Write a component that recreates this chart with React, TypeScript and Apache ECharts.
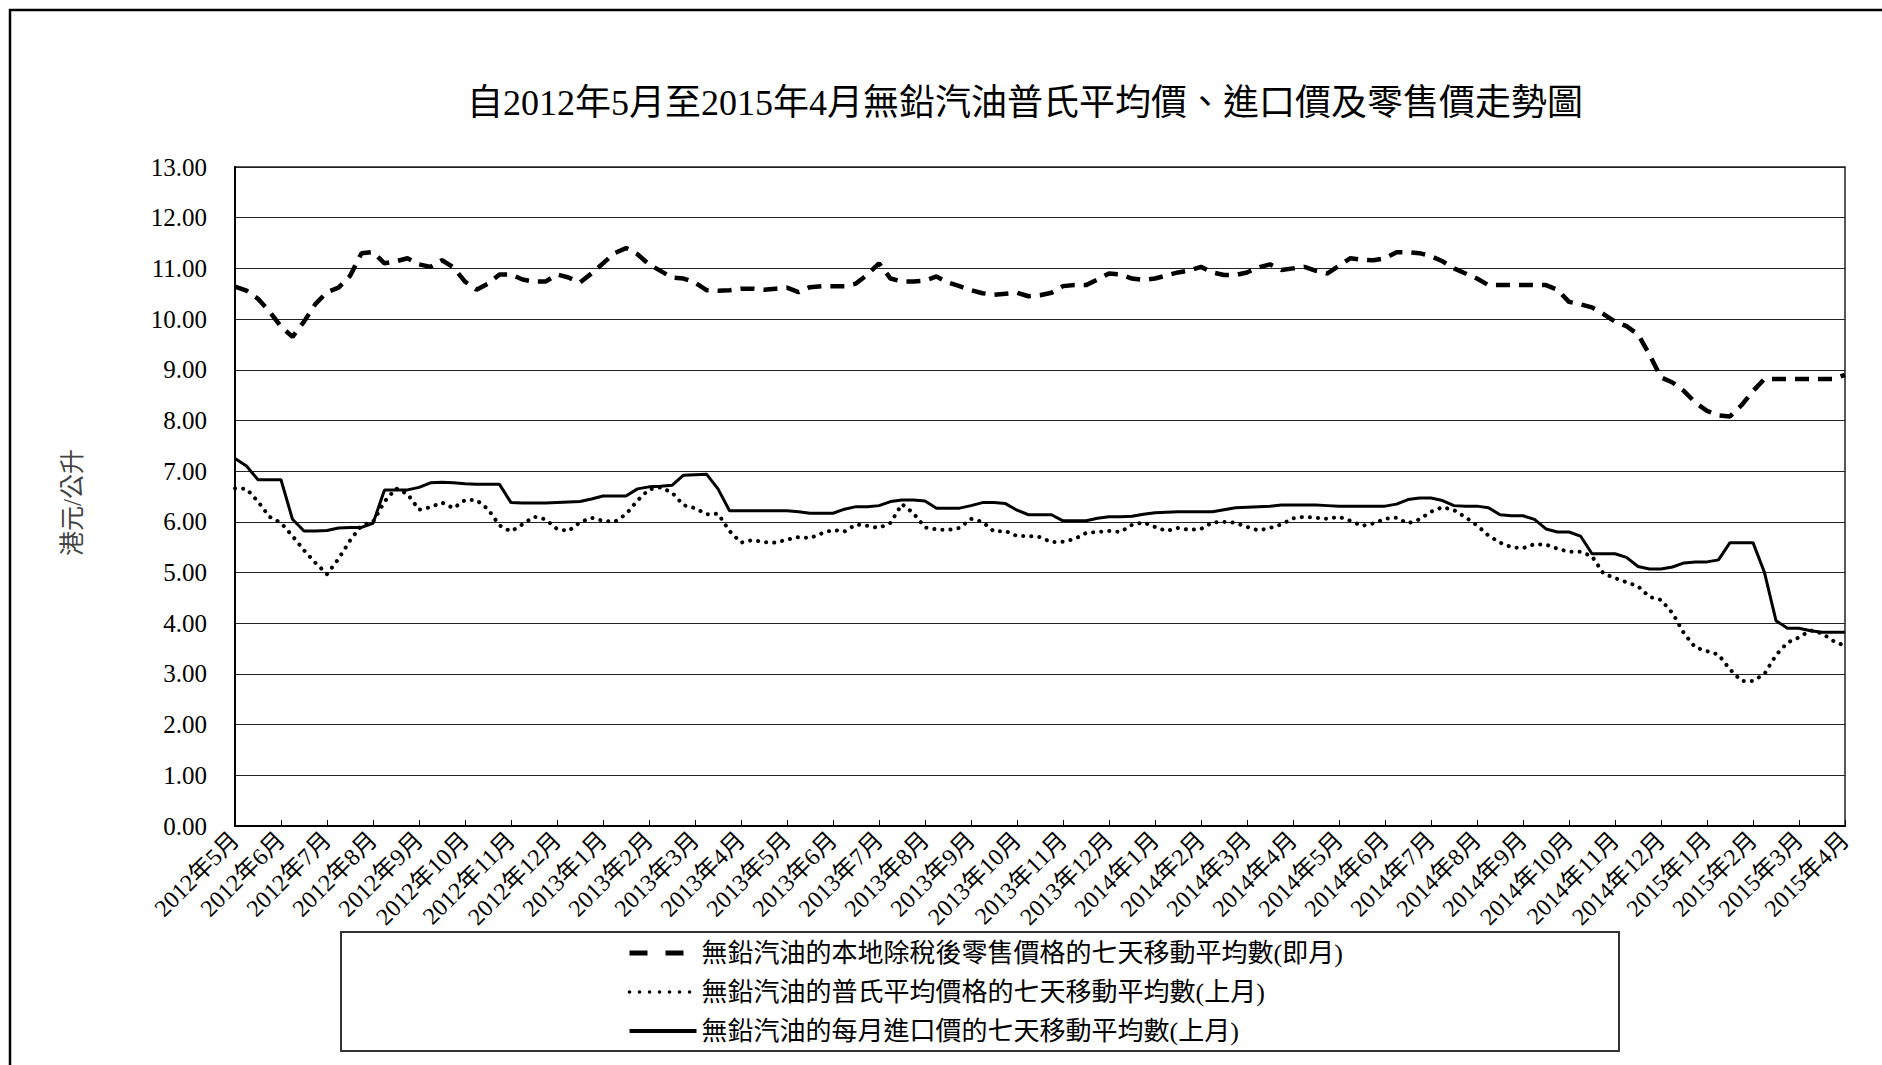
import React, { useEffect, useRef } from "react";
import * as echarts from "echarts";

const FONT = "'Liberation Serif', 'Noto Sans CJK TC', serif";

const chartTitle = "自2012年5月至2015年4月無鉛汽油普氏平均價、進口價及零售價走勢圖";
const yAxisName = "港元/公升";

const monthLabels = [
  "2012年5月", "2012年6月", "2012年7月", "2012年8月", "2012年9月", "2012年10月",
  "2012年11月", "2012年12月", "2013年1月", "2013年2月", "2013年3月", "2013年4月",
  "2013年5月", "2013年6月", "2013年7月", "2013年8月", "2013年9月", "2013年10月",
  "2013年11月", "2013年12月", "2014年1月", "2014年2月", "2014年3月", "2014年4月",
  "2014年5月", "2014年6月", "2014年7月", "2014年8月", "2014年9月", "2014年10月",
  "2014年11月", "2014年12月", "2015年1月", "2015年2月", "2015年3月", "2015年4月",
];

// samples are read at quarter-month steps along the month axis
const samplesPerMonth = 4;

const seriesNames = [
  "無鉛汽油的本地除稅後零售價格的七天移動平均數(即月)",
  "無鉛汽油的普氏平均價格的七天移動平均數(上月)",
  "無鉛汽油的每月進口價的七天移動平均數(上月)",
];

// 本地除稅後零售價格 (dashed)
const retailPrice = [
  10.64, 10.56, 10.40, 10.15,
  9.85, 9.65, 9.95, 10.30,
  10.53, 10.62, 10.85, 11.30,
  11.32, 11.10, 11.14, 11.20,
  11.08, 11.03, 11.16, 11.02,
  10.74, 10.58, 10.70, 10.88,
  10.88, 10.78, 10.74, 10.74,
  10.88, 10.82, 10.72, 10.90,
  11.10, 11.30, 11.40, 11.28,
  11.08, 10.95, 10.82, 10.80,
  10.72, 10.57, 10.56, 10.57,
  10.60, 10.60, 10.58, 10.60,
  10.62, 10.53, 10.63, 10.65,
  10.65, 10.65, 10.70, 10.88,
  11.10, 10.80, 10.74, 10.74,
  10.76, 10.84, 10.72, 10.65,
  10.57, 10.51, 10.48, 10.50,
  10.52, 10.45, 10.47, 10.52,
  10.65, 10.67, 10.67, 10.78,
  10.90, 10.88, 10.80, 10.77,
  10.80, 10.86, 10.92, 10.96,
  11.03, 10.92, 10.87, 10.87,
  10.92, 11.02, 11.08, 10.97,
  11.00, 11.03, 10.95, 10.90,
  11.05, 11.20, 11.17, 11.16,
  11.20, 11.32, 11.32, 11.30,
  11.24, 11.14, 11.00, 10.90,
  10.80, 10.67, 10.67, 10.67,
  10.67, 10.67, 10.67, 10.58,
  10.34, 10.29, 10.23, 10.10,
  9.95, 9.86, 9.70, 9.30,
  8.85, 8.75, 8.58, 8.35,
  8.19, 8.10, 8.08, 8.30,
  8.58, 8.82, 8.82, 8.82,
  8.82, 8.82, 8.82, 8.82,
  8.90,
];

// 普氏平均價格 (dotted)
const plattsPrice = [
  6.66, 6.65, 6.40, 6.10,
  5.98, 5.72, 5.44, 5.19,
  4.97, 5.27, 5.63, 5.93,
  6.00, 6.40, 6.66, 6.55,
  6.24, 6.29, 6.38, 6.27,
  6.43, 6.43, 6.25, 5.93,
  5.81, 5.95, 6.10, 6.05,
  5.86, 5.82, 5.99, 6.08,
  6.02, 6.00, 6.15, 6.42,
  6.64, 6.68, 6.58, 6.33,
  6.27, 6.15, 6.16, 5.82,
  5.59, 5.64, 5.60, 5.59,
  5.65, 5.70, 5.68, 5.77,
  5.84, 5.81, 5.95, 5.92,
  5.88, 5.98, 6.35, 6.17,
  5.89, 5.85, 5.84, 5.88,
  6.06, 6.00, 5.81, 5.82,
  5.72, 5.72, 5.70, 5.60,
  5.61, 5.66, 5.78, 5.80,
  5.82, 5.80, 5.94, 5.99,
  5.90, 5.82, 5.88, 5.84,
  5.86, 5.99, 6.00, 5.98,
  5.90, 5.83, 5.88, 5.95,
  6.07, 6.10, 6.08, 6.06,
  6.10, 6.02, 5.92, 5.97,
  6.06, 6.08, 5.97, 6.05,
  6.20, 6.29, 6.23, 6.09,
  5.93, 5.73, 5.59, 5.50,
  5.48, 5.56, 5.55, 5.47,
  5.41, 5.41, 5.32, 4.98,
  4.89, 4.81, 4.73, 4.52,
  4.46, 4.20, 3.80, 3.52,
  3.45, 3.38, 3.09, 2.86,
  2.86, 3.00, 3.37, 3.62,
  3.72, 3.86, 3.80, 3.65,
  3.55,
];

// 每月進口價 (solid)
const importPrice = [
  7.25, 7.10, 6.83, 6.83,
  6.83, 6.05, 5.82, 5.82,
  5.83, 5.88, 5.89, 5.89,
  5.97, 6.63, 6.63, 6.63,
  6.68, 6.77, 6.78, 6.77,
  6.75, 6.74, 6.74, 6.74,
  6.38, 6.37, 6.37, 6.37,
  6.38, 6.39, 6.40, 6.45,
  6.51, 6.51, 6.51, 6.65,
  6.69, 6.70, 6.72, 6.92,
  6.93, 6.94, 6.65, 6.22,
  6.22, 6.22, 6.22, 6.22,
  6.22, 6.20, 6.17, 6.17,
  6.17, 6.25, 6.30, 6.30,
  6.32, 6.40, 6.43, 6.43,
  6.41, 6.27, 6.27, 6.27,
  6.32, 6.38, 6.38, 6.36,
  6.23, 6.14, 6.14, 6.14,
  6.02, 6.02, 6.02, 6.07,
  6.10, 6.10, 6.11, 6.15,
  6.18, 6.19, 6.20, 6.20,
  6.20, 6.20, 6.24, 6.28,
  6.29, 6.30, 6.31, 6.33,
  6.33, 6.33, 6.33, 6.32,
  6.31, 6.31, 6.31, 6.31,
  6.31, 6.35, 6.44, 6.47,
  6.47, 6.42, 6.32, 6.31,
  6.31, 6.28, 6.14, 6.12,
  6.12, 6.05, 5.86, 5.80,
  5.80, 5.72, 5.37, 5.37,
  5.37, 5.30, 5.12, 5.07,
  5.07, 5.11, 5.19, 5.21,
  5.21, 5.25, 5.59, 5.59,
  5.59, 5.00, 4.05, 3.90,
  3.90, 3.85, 3.82, 3.82,
  3.82,
];

const toPoints = (values: number[]) =>
  values.map((v, i) => [i / samplesPerMonth, v]);

export default function App() {
  const ref = useRef<HTMLDivElement | null>(null);

  useEffect(() => {
    if (!ref.current) return;
    const chart = echarts.init(ref.current, null, { renderer: "svg" });
    const hiddenSymbol = { opacity: 0, color: "transparent", borderWidth: 0 };
    chart.setOption({
      animation: false,
      backgroundColor: "#ffffff",
      title: {
        text: chartTitle,
        left: 462,
        top: 80,
        textStyle: { fontFamily: FONT, fontSize: 36, fontWeight: "normal", color: "#000" },
      },
      grid: {
        left: 235,
        right: 37,
        top: 167,
        bottom: 239,
        show: true,
        borderColor: "#222",
        borderWidth: 1.5,
        backgroundColor: "transparent",
      },
      xAxis: {
        type: "value",
        min: 0,
        max: monthLabels.length - 1,
        interval: 1,
        axisLine: { show: true, lineStyle: { color: "#000", width: 2 } },
        axisTick: { show: true, inside: true, length: 6, lineStyle: { color: "#000", width: 1 } },
        splitLine: { show: false },
        axisLabel: {
          rotate: 45,
          margin: 10,
          fontSize: 24,
          fontFamily: FONT,
          color: "#000",
          formatter: (v: number) => monthLabels[Math.round(v)] ?? "",
        },
      },
      yAxis: {
        type: "value",
        min: 0,
        max: 13,
        interval: 1,
        name: yAxisName,
        nameLocation: "middle",
        nameRotate: 90,
        nameGap: 150,
        nameTextStyle: {
          fontSize: 25,
          fontFamily: FONT,
          color: "#444",
          padding: [0, 12, 0, 0],
        },
        axisLine: { show: true, lineStyle: { color: "#000", width: 2 } },
        axisTick: { show: false },
        splitLine: { show: true, lineStyle: { color: "#222", width: 1.2 } },
        axisLabel: {
          fontSize: 25,
          fontFamily: FONT,
          color: "#000",
          margin: 28,
          formatter: (v: number) => v.toFixed(2),
        },
      },
      legend: {
        orient: "vertical",
        left: 622,
        top: 935,
        itemWidth: 67,
        itemHeight: 14,
        itemGap: 13,
        itemStyle: hiddenSymbol,
        data: [
          {
            name: seriesNames[0],
            itemStyle: hiddenSymbol,
            lineStyle: { color: "#000", width: 5, type: [18, 18] },
          },
          {
            name: seriesNames[1],
            itemStyle: hiddenSymbol,
            lineStyle: { color: "#000", width: 3.5, type: [0.1, 9.9], cap: "round" },
          },
          {
            name: seriesNames[2],
            itemStyle: hiddenSymbol,
            lineStyle: { color: "#000", width: 4 },
          },
        ],
        textStyle: { fontFamily: FONT, fontSize: 26, color: "#000" },
      },
      graphic: [
        {
          type: "rect",
          silent: true,
          shape: { x: 10, y: 10, width: 1900, height: 1100 },
          style: { fill: "none", stroke: "#000", lineWidth: 2.5 },
        },
        {
          type: "rect",
          silent: true,
          shape: { x: 341, y: 932, width: 1278, height: 119 },
          style: { fill: "none", stroke: "#333", lineWidth: 2 },
        },
      ],
      series: [
        {
          name: seriesNames[0],
          type: "line",
          symbol: "none",
          data: toPoints(retailPrice),
          lineStyle: { color: "#000", width: 4.5, type: [14, 9] },
          itemStyle: { color: "#000" },
        },
        {
          name: seriesNames[1],
          type: "line",
          symbol: "none",
          data: toPoints(plattsPrice),
          lineStyle: { color: "#000", width: 4, type: [0.1, 8], cap: "round" },
          itemStyle: { color: "#000" },
        },
        {
          name: seriesNames[2],
          type: "line",
          symbol: "none",
          data: toPoints(importPrice),
          lineStyle: { color: "#000", width: 3 },
          itemStyle: { color: "#000" },
        },
      ],
    });
    return () => chart.dispose();
  }, []);

  return (
    <div
      ref={ref}
      style={{ position: "fixed", left: 0, top: 0, width: 1882, height: 1065, background: "#fff" }}
    />
  );
}
